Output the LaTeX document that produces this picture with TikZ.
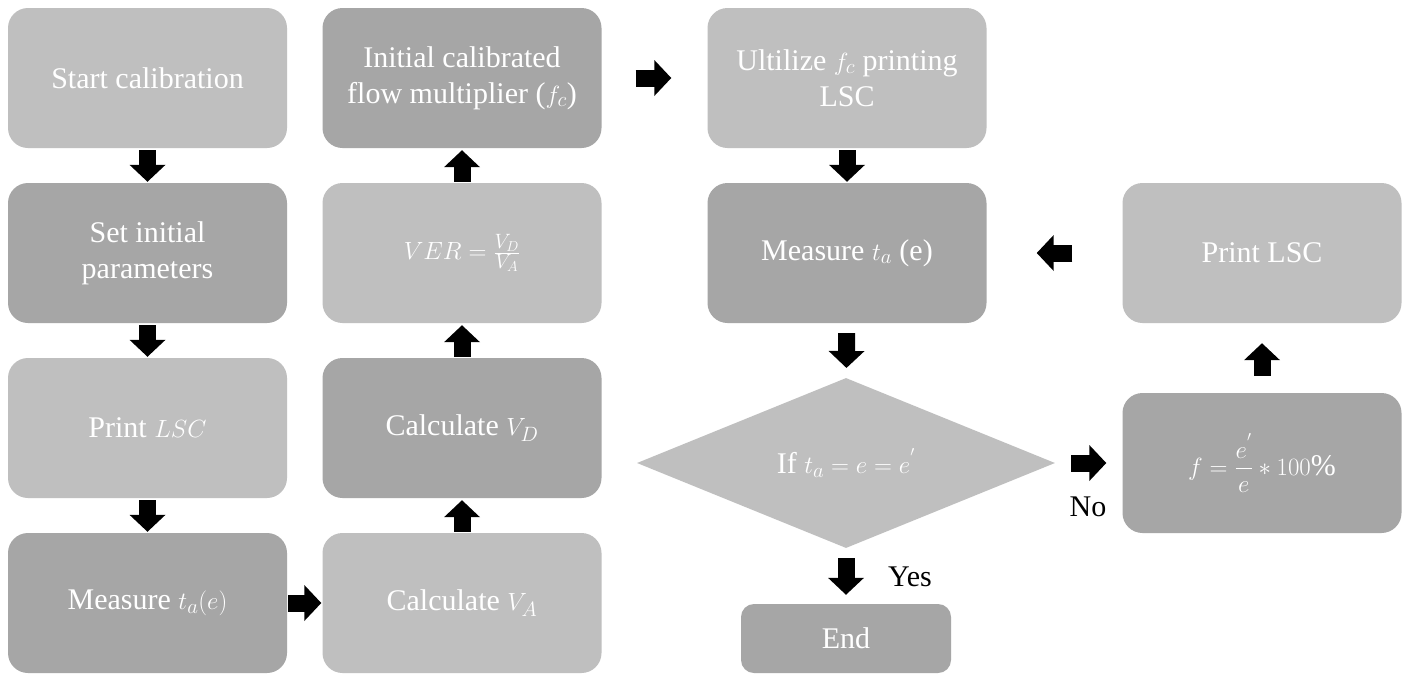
\documentclass[tikz,border=0pt]{standalone}
\usepackage{amsmath}
\usepackage{fontspec}
\setmainfont{Liberation Serif}
\usetikzlibrary{shapes.geometric,arrows.meta}
\definecolor{lgray}{RGB}{191,191,191}
\definecolor{dgray}{RGB}{166,166,166}
\tikzset{
  box/.style={rounded corners=20pt, minimum width=279pt, minimum height=140pt,
    text=white, align=center, inner sep=0pt, font=\fontsize{30}{36}\selectfont},
  light/.style={box, fill=lgray},
  dark/.style={box, fill=dgray},
  blk/.style={draw=black, line width=17pt, -{Triangle[length=17pt,width=35pt]}},
  lbl/.style={text=black, font=\fontsize{30}{36}\selectfont, inner sep=0pt},
}
\begin{document}
\begin{tikzpicture}[x=1pt,y=-1pt]
\path[use as bounding box, fill=white] (0,0) rectangle (1407,675);
% column 1
\node[light] (start) at (147.5,78) {Start calibration};
\node[dark]  (setp)  at (147.5,253) {Set initial\\parameters};
\node[light] (print1) at (147.5,428) {Print $LSC$};
\node[dark]  (meas1) at (147.5,603) {Measure $t_a(e)$};
% column 2
\node[light] (calcA) at (462,603) {Calculate $V_A$};
\node[dark]  (calcD) at (462,428) {Calculate $V_D$};
\node[light] (ver)   at (462,253) {$VER=\frac{V_D}{V_A}$};
\node[dark]  (init)  at (462,78) {Initial calibrated\\flow multiplier ($f_c$)};
% column 3
\node[light] (util)  at (847,78) {Ultilize $f_c$ printing\\LSC};
\node[dark]  (meas2) at (847,253) {Measure $t_a$ (e)};
\node[diamond, fill=lgray, text=white, inner sep=0pt, aspect=2.46,
      minimum width=418pt, minimum height=170pt,
      font=\fontsize{30}{36}\selectfont] (dec) at (846,463) {If $t_a=e=e^{'}$};
\node[box, fill=dgray, rounded corners=13pt, minimum width=210pt, minimum height=69pt] (end) at (846,638.5) {End};
% column 4
\node[light] (print2) at (1262,253) {Print LSC};
\node[dark]  (fbox)   at (1262,463) {$f=\dfrac{e^{'}}{e}*100\%$};
% labels
\node[lbl] (no)  at (1088,507) {No};
\node[lbl] (yes) at (910,577) {Yes};
% arrows
\draw[blk, shorten <=2pt, shorten >=1pt] (start) -- (setp);
\draw[blk, shorten <=2pt, shorten >=1pt] (setp) -- (print1);
\draw[blk, shorten <=2pt, shorten >=1pt] (print1) -- (meas1);
\draw[blk, shorten <=1pt, shorten >=1pt] (meas1) -- (calcA);
\draw[blk, shorten <=1pt, shorten >=2pt] (calcA) -- (calcD);
\draw[blk, shorten <=1pt, shorten >=2pt] (calcD) -- (ver);
\draw[blk, shorten <=1pt, shorten >=2pt] (ver) -- (init);
\draw[blk, shorten <=34pt, shorten >=36pt] (init) -- (util);
\draw[blk, shorten <=2pt, shorten >=1pt] (util) -- (meas2);
\draw[blk, shorten <=10pt, shorten >=10pt] (meas2) -- (dec);
\draw[blk, shorten <=10pt, shorten >=9pt] (dec) -- (end);
\draw[blk, shorten <=16pt, shorten >=16pt] (dec) -- (fbox);
\draw[blk, shorten <=17pt, shorten >=20pt] (fbox) -- (print2);
\draw[blk, shorten <=50pt, shorten >=50pt] (print2) -- (meas2);
\end{tikzpicture}
\end{document}
